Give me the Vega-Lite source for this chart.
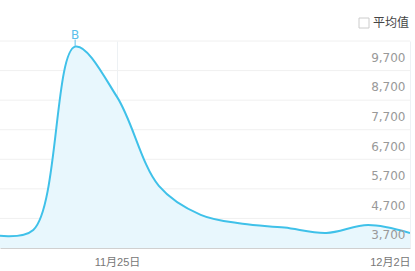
{
  "$schema": "https://vega.github.io/schema/vega-lite/v6.json",
  "width": 410,
  "height": 207,
  "autosize": "none",
  "padding": {"left": 0, "top": 41, "right": 5, "bottom": 23},
  "background": "white",
  "config": {"view": {"stroke": null}},
  "datasets": {
    "series": [
      {"date": "2018-11-22", "value": 3650},
      {"date": "2018-11-23", "value": 3810},
      {"date": "2018-11-24", "value": 10010, "note": "B"},
      {"date": "2018-11-25", "value": 8310},
      {"date": "2018-11-26", "value": 5300},
      {"date": "2018-11-27", "value": 4320},
      {"date": "2018-11-28", "value": 4020},
      {"date": "2018-11-29", "value": 3890},
      {"date": "2018-11-30", "value": 3710},
      {"date": "2018-12-01", "value": 3980},
      {"date": "2018-12-02", "value": 3710}
    ],
    "grid": [
      {"value": 4200}, {"value": 5200}, {"value": 6200}, {"value": 7200}, {"value": 8200}, {"value": 9200}, {"value": 10200}
    ],
    "legend": [{"name": "平均值"}]
  },
  "encoding": {
    "y": {
      "field": "value", "type": "quantitative",
      "scale": {"domain": [3200, 10200], "zero": false, "nice": false},
      "axis": {
        "title": null,
        "orient": "right",
        "values": [3700, 4700, 5700, 6700, 7700, 8700, 9700],
        "format": ",.0f",
        "labelAlign": "right",
        "labelPadding": -5,
        "labelOffset": 1.5,
        "labelOverlap": false,
        "ticks": false,
        "tickSize": 0,
        "domain": false,
        "grid": false,
        "zindex": 2,
        "labelFont": "DejaVu Sans",
        "labelFontSize": 12,
        "labelColor": "#999"
      }
    }
  },
  "layer": [
    {
      "data": {"name": "grid"},
      "mark": {"type": "rule", "color": "#f0f0f0", "strokeWidth": 1},
      "encoding": {}
    },
    {
      "data": {"name": "series"},
      "mark": {"type": "area", "interpolate": "catmull-rom", "color": "#e8f7fd", "clip": true},
      "encoding": {
        "x": {
          "field": "date", "type": "temporal",
          "scale": {"type": "utc", "domain": [{"year": 2018, "month": 11, "date": 22, "hours": 4, "minutes": 55, "utc": true}, {"year": 2018, "month": 12, "date": 2, "utc": true}]},
          "axis": {
            "title": null,
            "values": [{"year": 2018, "month": 11, "date": 25, "utc": true}, {"year": 2018, "month": 12, "date": 2, "utc": true}],
            "labelExpr": "utcFormat(datum.value, '%-m月%-d日')",
            "labelFlush": true,
            "labelFont": "Liberation Sans, Noto Sans CJK SC",
            "labelFontSize": 11,
            "labelColor": "#777",
            "labelPadding": 8,
            "ticks": false,
            "tickSize": 0,
            "domainColor": "#d0d0d0",
            "grid": true,
            "gridColor": "#edf1f4"
          }
        }
      }
    },
    {
      "data": {"name": "series"},
      "mark": {"type": "line", "interpolate": "catmull-rom", "color": "#3fc1e9", "strokeWidth": 2, "clip": true},
      "encoding": {
        "x": {"field": "date", "type": "temporal"}
      }
    },
    {
      "data": {"name": "series"},
      "transform": [{"filter": "isValid(datum.note)"}],
      "mark": {"type": "rule", "color": "#5bc0eb", "strokeWidth": 1, "y2Offset": -7},
      "encoding": {
        "x": {"field": "date", "type": "temporal"},
        "y2": {"field": "value"}
      }
    },
    {
      "data": {"name": "series"},
      "transform": [{"filter": "isValid(datum.note)"}],
      "mark": {"type": "text", "color": "#5bc0eb", "fontSize": 12, "font": "DejaVu Sans", "baseline": "alphabetic", "dy": -8},
      "encoding": {
        "x": {"field": "date", "type": "temporal"},
        "text": {"field": "note"}
      }
    },
    {
      "data": {"name": "legend"},
      "mark": {"type": "point", "shape": "square", "opacity": 0},
      "encoding": {
        "y": null,
        "color": {
          "field": "name", "type": "nominal",
          "scale": {"range": ["#cccccc"]},
          "legend": {
            "title": null,
            "orient": "none",
            "legendX": 358,
            "legendY": -24,
            "padding": 0,
            "symbolType": "square",
            "symbolSize": 100,
            "symbolStrokeWidth": 1,
            "labelFont": "Noto Sans CJK SC",
            "labelFontSize": 12,
            "labelColor": "#444",
            "labelOffset": 3,
            "encode": {"symbols": {"update": {"fill": {"value": "white"}, "stroke": {"value": "#cccccc"}, "opacity": {"value": 1}}}}
          }
        }
      }
    }
  ]
}
